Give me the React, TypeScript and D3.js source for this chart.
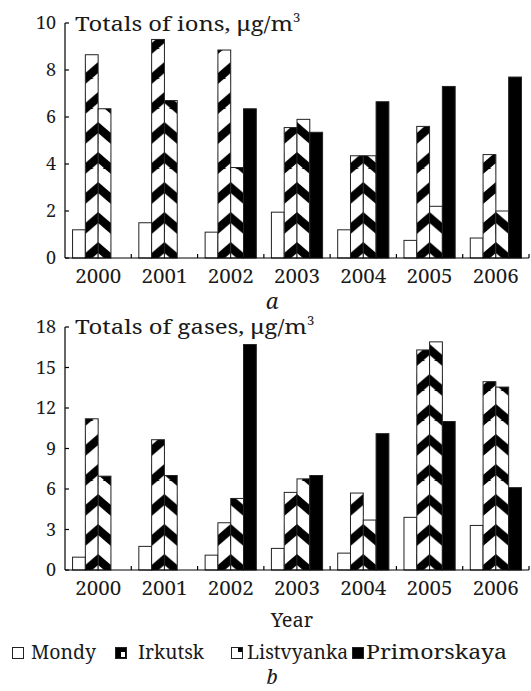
import React from "react";
import * as d3 from "d3";

const years = ["2000", "2001", "2002", "2003", "2004", "2005", "2006"];
const series = ["Mondy", "Irkutsk", "Listvyanka", "Primorskaya"];

// Panel a: totals of ions
const ionsMondy = [1.2, 1.5, 1.1, 1.95, 1.2, 0.75, 0.85];
const ionsIrkutsk = [8.65, 9.3, 8.85, 5.55, 4.35, 5.6, 4.4];
const ionsListvyanka = [6.35, 6.7, 3.85, 5.9, 4.35, 2.2, 2.0];
const ionsPrimorskaya = [0, 0, 6.35, 5.35, 6.65, 7.3, 7.7];

// Panel b: totals of gases
const gasMondy = [0.95, 1.75, 1.1, 1.6, 1.25, 3.9, 3.3];
const gasIrkutsk = [11.2, 9.65, 3.5, 5.75, 5.7, 16.3, 13.95];
const gasListvyanka = [6.95, 7.0, 5.3, 6.75, 3.7, 16.9, 13.55];
const gasPrimorskaya = [0, 0, 16.7, 7.0, 10.1, 11.0, 6.1];

const ionTicks = [0, 2, 4, 6, 8, 10];
const gasTicks = [0, 3, 6, 9, 12, 15, 18];

const FONT = "'Noto Serif', 'DejaVu Serif', serif";
const TXT = "#1a1a1a";
const X0 = 65;
const X1 = 529;
const PERIOD = 30;

type PanelProps = {
  id: string;
  data: number[][];
  ticks: number[];
  yMax: number;
  yBottom: number;
  yTop: number;
  title: string;
  titleLen: number;
  titleY: number;
};

function Panel({ id, data, ticks, yMax, yBottom, yTop, title, titleLen, titleY }: PanelProps) {
  const x0 = d3.scaleBand<string>().domain(years).range([X0, X1]).paddingInner(0).paddingOuter(0);
  const x1 = d3
    .scaleBand<string>()
    .domain(series)
    .range([0, x0.bandwidth()])
    .paddingInner(0)
    .paddingOuter(0.59);
  const y = d3.scaleLinear().domain([0, yMax]).range([yBottom, yTop]);
  const bw = x1.bandwidth();

  const defs: React.ReactNode[] = [];
  const bars: React.ReactNode[] = [];
  years.forEach((yr, i) => {
    series.forEach((s, j) => {
      const v = data[j][i];
      if (!v) return;
      const bx = (x0(yr) as number) + (x1(s) as number);
      const by = y(v);
      const h = y(0) - by;
      let fill = "#fff";
      if (s === "Primorskaya") fill = "#000";
      if (s === "Irkutsk" || s === "Listvyanka") {
        const pid = `${id}-p-${i}-${j}`;
        const up = s === "Irkutsk";
        const a = up ? 25 : 14;
        const b = up ? 14 : 25;
        const pts = (off: number) =>
          `0,${a + off} ${bw},${b + off} ${bw},${b + 11 + off} 0,${a + 11 + off}`;
        defs.push(
          <pattern
            key={pid}
            id={pid}
            patternUnits="userSpaceOnUse"
            width={bw}
            height={PERIOD}
            patternTransform={`translate(${bx},${y(0)})`}
          >
            <rect x={0} y={0} width={bw} height={PERIOD} fill="#fff" />
            <polygon points={pts(0)} fill="#000" />
            <polygon points={pts(-PERIOD)} fill="#000" />
          </pattern>
        );
        fill = `url(#${pid})`;
      }
      bars.push(
        <rect
          key={`${id}-${i}-${j}`}
          x={bx}
          y={by}
          width={bw}
          height={h}
          fill={fill}
          stroke="#222"
          strokeWidth={1}
        />
      );
    });
  });

  return (
    <g>
      <defs>{defs}</defs>
      {bars}
      {/* y axis */}
      <line x1={X0} x2={X0} y1={yBottom} y2={y(yMax)} stroke="#000" strokeWidth={1.2} />
      {ticks.map((t) => (
        <g key={`yt${t}`}>
          <line x1={X0} x2={X0 + 4} y1={y(t)} y2={y(t)} stroke="#000" strokeWidth={1.2} />
          <text
            x={56}
            y={y(t)}
            dy="0.36em"
            textAnchor="end"
            fontFamily={FONT}
            fontSize={18}
            fill={TXT}
          >
            {t}
          </text>
        </g>
      ))}
      {/* x axis */}
      <line x1={X0} x2={X1} y1={yBottom} y2={yBottom} stroke="#000" strokeWidth={1.2} />
      {years.map((yr) => {
        const xe = (x0(yr) as number) + x0.bandwidth();
        const cx = (x0(yr) as number) + x0.bandwidth() / 2;
        return (
          <g key={`xt${yr}`}>
            <line x1={xe} x2={xe} y1={yBottom} y2={yBottom - 4} stroke="#000" strokeWidth={1.2} />
            <text
              x={cx - 23}
              y={yBottom + 25}
              fontFamily={FONT}
              fontSize={20.5}
              textLength={46}
              lengthAdjust="spacingAndGlyphs"
              fill={TXT}
            >
              {yr}
            </text>
          </g>
        );
      })}
      <text x={75} y={titleY} fontFamily={FONT} fontSize={20} fill={TXT}>
        <tspan textLength={titleLen} lengthAdjust="spacingAndGlyphs">
          {title}
        </tspan>
        <tspan fontSize={13} dy={-9}>
          3
        </tspan>
      </text>
    </g>
  );
}

const legendNames = ["Mondy", "Irkutsk", "Listvyanka", "Primorskaya"];
const legendBoxX = [12, 115, 231, 352];
const legendTextX = [31, 138, 247, 366];
const legendTextLen = [65, 66, 101, 141];

export default function App() {
  const boxY = 647;
  return (
    <svg width={531} height={691} style={{ position: "absolute", left: 0, top: 0 }}>
      <rect width={531} height={691} fill="#fff" />
      <Panel
        id="a"
        data={[ionsMondy, ionsIrkutsk, ionsListvyanka, ionsPrimorskaya]}
        ticks={ionTicks}
        yMax={10}
        yBottom={258}
        yTop={23}
        title="Totals of ions, μg/m"
        titleLen={218}
        titleY={31}
      />
      <text x={272} y={309} textAnchor="middle" fontFamily={FONT} fontStyle="italic" fontSize={22} fill={TXT}>
        a
      </text>
      <Panel
        id="b"
        data={[gasMondy, gasIrkutsk, gasListvyanka, gasPrimorskaya]}
        ticks={gasTicks}
        yMax={18}
        yBottom={570}
        yTop={327}
        title="Totals of gases, μg/m"
        titleLen={232}
        titleY={334}
      />
      <text x={292} y={627} textAnchor="middle" fontFamily={FONT} fontSize={20} fill={TXT}>
        Year
      </text>
      {legendNames.map((name, k) => {
        const bx = legendBoxX[k];
        return (
          <g key={name}>
            {name === "Mondy" && (
              <rect x={bx + 0.5} y={boxY + 0.5} width={11} height={11} fill="#fff" stroke="#222" />
            )}
            {name === "Irkutsk" && (
              <g>
                <rect x={bx + 0.5} y={boxY + 0.5} width={11} height={11} fill="#000" stroke="#222" />
                <rect x={bx + 6} y={boxY + 5} width={4} height={5} fill="#fff" />
              </g>
            )}
            {name === "Listvyanka" && (
              <g>
                <rect x={bx + 0.5} y={boxY + 0.5} width={11} height={11} fill="#fff" stroke="#222" />
                <rect x={bx + 7} y={boxY + 1} width={4} height={4} fill="#000" />
              </g>
            )}
            {name === "Primorskaya" && (
              <rect x={bx + 0.5} y={boxY + 0.5} width={11} height={11} fill="#000" stroke="#222" />
            )}
            <text
              x={legendTextX[k]}
              y={659}
              fontFamily={FONT}
              fontSize={20}
              textLength={legendTextLen[k]}
              lengthAdjust="spacingAndGlyphs"
              fill={TXT}
            >
              {name}
            </text>
          </g>
        );
      })}
      <text x={272} y={684} textAnchor="middle" fontFamily={FONT} fontStyle="italic" fontSize={20} fill={TXT}>
        b
      </text>
    </svg>
  );
}
